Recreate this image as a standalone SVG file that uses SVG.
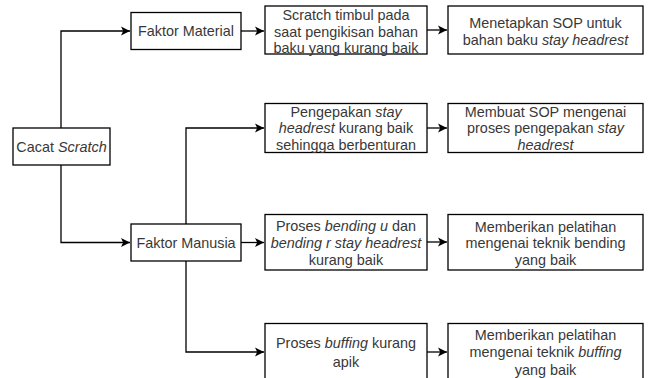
<svg xmlns="http://www.w3.org/2000/svg" width="648" height="378" viewBox="0 0 648 378">
<style>
.box{fill:#fff;stroke:#000;stroke-width:1.3}
.t{font-family:"Liberation Sans",Arial,sans-serif;font-size:14.4px;fill:#383838;text-anchor:middle}
.i{font-style:italic}
.c{fill:none;stroke:#000;stroke-width:1.3;marker-end:url(#a)}
</style>
<defs>
<marker id="a" markerUnits="userSpaceOnUse" markerWidth="12" markerHeight="12" viewBox="0 0 12 12" refX="10" refY="6" orient="auto">
<path d="M1,1.5 L10,6 L1,10.5 L3.2,6 Z" fill="#000"/>
</marker>
</defs>
<rect width="648" height="378" fill="#fff"/>
<g id="connectors">
<path class="c" d="M61,128 V31 H130"/>
<path class="c" d="M61,165 V242.5 H130"/>
<path class="c" d="M241,31 H264"/>
<path class="c" d="M186,224 V128 H264"/>
<path class="c" d="M241,242.5 H264"/>
<path class="c" d="M186,261 V352 H264"/>
<path class="c" d="M427,30 H447"/>
<path class="c" d="M427,128 H447"/>
<path class="c" d="M427,242 H447"/>
<path class="c" d="M427,352 H447"/>
</g>
<g id="cacat">
<rect class="box" x="13" y="128" width="97" height="37"/>
<text class="t" x="61.5" y="151.5">Cacat <tspan class="i">Scratch</tspan></text>
</g>
<g id="faktor-material">
<rect class="box" x="131" y="12.5" width="110" height="37"/>
<text class="t" x="186" y="36">Faktor Material</text>
</g>
<g id="faktor-manusia">
<rect class="box" x="131" y="224" width="110" height="37"/>
<text class="t" x="186" y="247.5">Faktor Manusia</text>
</g>
<g id="m1">
<rect class="box" x="265" y="6" width="162" height="48"/>
<text class="t" x="346" y="20">Scratch timbul pada</text>
<text class="t" x="346" y="36.7">saat pengikisan bahan</text>
<text class="t" x="346" y="53.3">baku yang kurang baik</text>
</g>
<g id="s1">
<rect class="box" x="448" y="6" width="195" height="48"/>
<text class="t" x="545.5" y="28.3">Menetapkan SOP untuk</text>
<text class="t" x="545.5" y="45">bahan baku <tspan class="i">stay headrest</tspan></text>
</g>
<g id="m2">
<rect class="box" x="265" y="103.5" width="162" height="49"/>
<text class="t" x="346" y="116.7">Pengepakan <tspan class="i">stay</tspan></text>
<text class="t" x="346" y="133.3"><tspan class="i">headrest</tspan> kurang baik</text>
<text class="t" x="346" y="150">sehingga berbenturan</text>
</g>
<g id="s2">
<rect class="box" x="448" y="103.5" width="195" height="49"/>
<text class="t" x="545.5" y="116.7">Membuat SOP mengenai</text>
<text class="t" x="545.5" y="133.3">proses pengepakan <tspan class="i">stay</tspan></text>
<text class="t" x="545.5" y="150"><tspan class="i">headrest</tspan></text>
</g>
<g id="m3">
<rect class="box" x="265" y="214.5" width="162" height="55.5"/>
<text class="t" x="346" y="231">Proses <tspan class="i">bending u</tspan> dan</text>
<text class="t" x="346" y="248.3"><tspan class="i">bending r stay headrest</tspan></text>
<text class="t" x="346" y="265">kurang baik</text>
</g>
<g id="s3">
<rect class="box" x="448" y="214.5" width="195" height="55.5"/>
<text class="t" x="545.5" y="231.7">Memberikan pelatihan</text>
<text class="t" x="545.5" y="248.3">mengenai teknik bending</text>
<text class="t" x="545.5" y="265">yang baik</text>
</g>
<g id="m4">
<rect class="box" x="265" y="323.5" width="162" height="56"/>
<text class="t" x="346" y="348">Proses <tspan class="i">buffing</tspan> kurang</text>
<text class="t" x="346" y="366.7">apik</text>
</g>
<g id="s4">
<rect class="box" x="448" y="323.5" width="195" height="56"/>
<text class="t" x="545.5" y="339.5">Memberikan pelatihan</text>
<text class="t" x="545.5" y="357">mengenai teknik <tspan class="i">buffing</tspan></text>
<text class="t" x="545.5" y="374.5">yang baik</text>
</g>
</svg>
